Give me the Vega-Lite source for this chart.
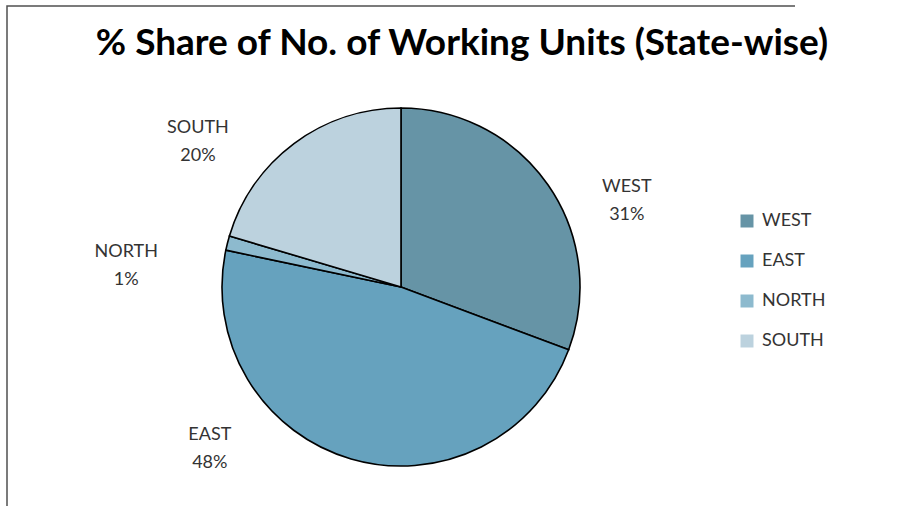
{
  "$schema": "https://vega.github.io/schema/vega-lite/v6.json",
  "width": 788,
  "height": 562,
  "autosize": {"type": "none"},
  "padding": {"left": 7, "top": 6, "right": 110, "bottom": -62},
  "background": "white",
  "view": {"stroke": "#505050", "strokeWidth": 1.5, "strokeDash": [788, 1350, 562, 10]},
  "title": {
    "text": "% Share of No. of Working Units (State-wise)",
    "font": "Lato",
    "fontSize": 37,
    "fontWeight": "bold",
    "color": "#000000",
    "frame": "group",
    "anchor": "middle",
    "baseline": "alphabetic",
    "dx": 61,
    "offset": -86
  },
  "data": {
    "values": [
      {"region": "WEST", "share": 30.7, "label": "WEST\n31%"},
      {"region": "EAST", "share": 47.6, "label": "EAST\n48%"},
      {"region": "NORTH", "share": 1.3, "label": "NORTH\n1%"},
      {"region": "SOUTH", "share": 20.4, "label": "SOUTH\n20%"}
    ]
  },
  "encoding": {
    "theta": {"field": "share", "type": "quantitative", "stack": true, "scale": {"range": [1.9289, 8.2121]}}
  },
  "layer": [
    {
      "mark": {"type": "arc", "radius": 179, "stroke": "#000000", "strokeWidth": 1.6},
      "encoding": {
        "color": {
          "field": "region",
          "type": "nominal",
          "scale": {
            "domain": ["WEST", "EAST", "NORTH", "SOUTH"],
            "range": ["#6694A6", "#66A2BE", "#8DBACE", "#BCD2DE"]
          },
          "legend": {
            "title": null,
            "orient": "none",
            "legendX": 731,
            "legendY": 206,
            "symbolType": "square",
            "symbolSize": 169,
            "symbolStrokeWidth": 0,
            "symbolOpacity": 1,
            "labelFont": "Lato",
            "labelFontSize": 18,
            "labelColor": "#333333",
            "labelOffset": 6,
            "rowPadding": 22,
            "padding": 0
          }
        }
      }
    },
    {
      "mark": {"type": "text", "radius": 247, "thetaOffset": 0.189, "font": "Lato", "fontSize": 18, "fill": "#333333", "lineBreak": "\n", "lineHeight": 28, "align": "center", "baseline": "middle"},
      "encoding": {"text": {"condition": {"test": "datum.region === 'WEST'", "field": "label", "type": "nominal"}, "value": ""}}
    },
    {
      "mark": {"type": "text", "radius": 242, "thetaOffset": 0.628, "font": "Lato", "fontSize": 18, "fill": "#333333", "lineBreak": "\n", "lineHeight": 28, "align": "center", "baseline": "middle"},
      "encoding": {"text": {"condition": {"test": "datum.region === 'EAST'", "field": "label", "type": "nominal"}, "value": ""}}
    },
    {
      "mark": {"type": "text", "radius": 277, "thetaOffset": -0.122, "font": "Lato", "fontSize": 18, "fill": "#333333", "lineBreak": "\n", "lineHeight": 28, "align": "center", "baseline": "middle"},
      "encoding": {"text": {"condition": {"test": "datum.region === 'NORTH'", "field": "label", "type": "nominal"}, "value": ""}}
    },
    {
      "mark": {"type": "text", "radius": 258, "thetaOffset": -0.265, "font": "Lato", "fontSize": 18, "fill": "#333333", "lineBreak": "\n", "lineHeight": 28, "align": "center", "baseline": "middle"},
      "encoding": {"text": {"condition": {"test": "datum.region === 'SOUTH'", "field": "label", "type": "nominal"}, "value": ""}}
    }
  ]
}
